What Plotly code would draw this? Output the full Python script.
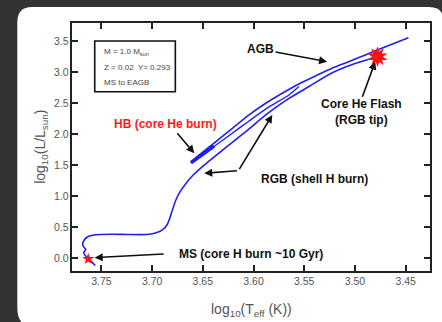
import plotly.graph_objects as go

# ---- data (log10 Teff, log10 L/Lsun) ----
rgb_logT = [3.7561, 3.7595, 3.7630, 3.7664, 3.7674, 3.7654, 3.7679, 3.7684, 3.7669, 3.7639,
            3.7585, 3.7507, 3.7389, 3.7242, 3.7058, 3.6967, 3.6898, 3.6854, 3.6825, 3.6800,
            3.6766, 3.6722, 3.6663, 3.6604, 3.6535, 3.6437, 3.6290, 3.6077, 3.5867, 3.5651,
            3.5445, 3.5229, 3.5013, 3.4788]
rgb_logL = [-0.126, -0.069, -0.021, 0.044, 0.084, 0.132, 0.181, 0.229, 0.285, 0.334,
            0.361, 0.374, 0.377, 0.374, 0.374, 0.398, 0.447, 0.527, 0.640, 0.769,
            0.931, 1.068, 1.205, 1.318, 1.423, 1.560, 1.753, 2.032, 2.318, 2.568,
            2.769, 2.979, 3.124, 3.237]

agb_logT = [3.6617, 3.6535, 3.6371, 3.6208, 3.6044, 3.5880, 3.5717, 3.5553, 3.5389, 3.5226,
            3.5062, 3.4898, 3.4736, 3.4473]
agb_logL = [1.539, 1.657, 1.871, 2.087, 2.302, 2.490, 2.652, 2.802, 2.931, 3.055,
            3.161, 3.269, 3.377, 3.548]

hb_logT = [3.6617, 3.6404, 3.6240, 3.6044, 3.5848, 3.5651, 3.5553]
hb_logL = [1.528, 1.777, 1.971, 2.205, 2.431, 2.624, 2.761]

hb_thick_logT = [3.6617, 3.6390]
hb_thick_logL = [1.530, 1.800]

ms_star = (3.7630, -0.021)
tip_star = (3.4778, 3.242)

x_ticks = [3.75, 3.70, 3.65, 3.60, 3.55, 3.50, 3.45]
y_ticks = [0.0, 0.5, 1.0, 1.5, 2.0, 2.5, 3.0, 3.5]
y_tick_labels = ["0.0", "0.5", "1.0", "1.5", "2.0", "2.5", "3.0", "3.5"]

BLUE = "#1f1ff5"
FONT = "Liberation Sans, Arial, sans-serif"
TICKGREY = "#555555"

fig = go.Figure()
fig.add_trace(go.Scatter(x=rgb_logT, y=rgb_logL, mode="lines",
                         line=dict(color=BLUE, width=1.6, shape="spline", smoothing=0.6)))
fig.add_trace(go.Scatter(x=hb_logT, y=hb_logL, mode="lines",
                         line=dict(color=BLUE, width=1.4, shape="spline", smoothing=0.6)))
fig.add_trace(go.Scatter(x=agb_logT, y=agb_logL, mode="lines",
                         line=dict(color=BLUE, width=1.6, shape="spline", smoothing=0.6)))
fig.add_trace(go.Scatter(x=hb_thick_logT, y=hb_thick_logL, mode="lines",
                         line=dict(color=BLUE, width=3.6)))
# stars
fig.add_trace(go.Scatter(x=[ms_star[0]], y=[ms_star[1]], mode="markers",
                         marker=dict(symbol="star", size=9, color="#ff1010", line=dict(width=0))))
for ang in (0, 36):
    fig.add_trace(go.Scatter(x=[tip_star[0]], y=[tip_star[1]], mode="markers",
                             marker=dict(symbol="star", size=15, angle=ang, color="#ff1010",
                                         line=dict(width=0))))
fig.add_trace(go.Scatter(x=[tip_star[0]], y=[tip_star[1]], mode="markers",
                         marker=dict(symbol="circle", size=8, color="#ff1010", line=dict(width=0))))

ann = []
def label(x, y, text, color="#111111", size=12):
    ann.append(dict(x=x, y=y, xref="x", yref="y", text=text, showarrow=False,
                    font=dict(family=FONT, size=size, color=color)))

def arrow(x0, y0, x1, y1, head=2):
    ann.append(dict(x=x1, y=y1, ax=x0, ay=y0, xref="x", yref="y", axref="x", ayref="y",
                    text="", showarrow=True, arrowhead=head, arrowsize=1.0, arrowwidth=1.6,
                    arrowcolor="#111111", standoff=0, startstandoff=0))

label(3.5929, 3.366, "<b>AGB</b>")
arrow(3.5798, 3.323, 3.5275, 3.161)
label(3.4938, 2.355, "<b>Core He Flash<br>(RGB tip)</b>")
arrow(3.4932, 2.571, 3.4800, 3.161)
label(3.6872, 2.152, "<b>HB (core He burn)</b>", color="#ff1a1a")
arrow(3.6764, 2.032, 3.6584, 1.684)
label(3.5399, 1.269, "<b>RGB (shell H burn)</b>")
arrow(3.6149, 1.403, 3.6486, 1.361)
arrow(3.6149, 1.403, 3.5815, 2.302)
label(3.6022, 0.060, "<b>MS (core H burn ~10 Gyr)</b>")
arrow(3.6872, 0.060, 3.7566, 0.0)

# info box text
for yy, t in ((3.315, "M = 1.0 M<sub>sun</sub>"), (3.072, "Z = 0.02  Y= 0.293"), (2.831, "MS to EAGB")):
    ann.append(dict(x=3.7490, y=yy, xref="x", yref="y", xanchor="left", text=t, showarrow=False,
                    font=dict(family=FONT, size=8, color="#444444")))

# y tick labels (placed close to the axis as in the original)
for v, t in zip(y_ticks, y_tick_labels):
    ann.append(dict(x=0, y=v, xref="paper", yref="y", xanchor="right", yanchor="middle",
                    xshift=-1.5, text=t, showarrow=False,
                    font=dict(family=FONT, size=10.5, color=TICKGREY)))

# axis titles
ann.append(dict(x=0.5, y=-0.157, xref="paper", yref="paper", yanchor="middle",
                text="log<sub>10</sub>(T<sub>eff</sub> (K))", showarrow=False,
                font=dict(family=FONT, size=14, color=TICKGREY)))
ann.append(dict(x=-0.087, y=0.50, xref="paper", yref="paper", xanchor="center", yanchor="middle",
                textangle=-90, text="log<sub>10</sub>(L/L<sub>sun</sub>)", showarrow=False,
                font=dict(family=FONT, size=14, color=TICKGREY)))

# white card with rounded corners (paper coords of the plot domain)
W, H = 360.0, 248.0
def px(xp): return (xp - 72) / W
def py(yp): return (271 - yp) / H
x0, x1, yt, yb = px(17), px(446), py(7), py(328)
rx, ry = 15 / W, 15 / H
rx2, ry2 = 20 / W, 20 / H
card = (f"M {x0},{yb+ry2} L {x0},{yt-ry} Q {x0},{yt} {x0+rx},{yt} "
        f"L {x1-rx},{yt} Q {x1},{yt} {x1},{yt-ry} L {x1},{yb} L {x0+rx2},{yb} "
        f"Q {x0},{yb} {x0},{yb+ry2} Z")
shapes = [
    dict(type="path", xref="paper", yref="paper", path=card, fillcolor="white",
         line=dict(width=0), layer="below"),
    dict(type="rect", xref="x", yref="y", x0=3.7566, x1=3.6771, y0=2.677, y1=3.495,
         line=dict(color="#111111", width=1.6), fillcolor="rgba(0,0,0,0)"),
]

axis_common = dict(showline=True, linecolor="#222222", linewidth=1.5, mirror="ticks",
                   ticks="inside", ticklen=6, tickwidth=1.5, tickcolor="#222222",
                   showgrid=False, zeroline=False,
                   tickfont=dict(family=FONT, size=10.5, color=TICKGREY))

fig.update_layout(
    width=442, height=322,
    margin=dict(l=72, r=10, t=23, b=51),
    paper_bgcolor="#333333", plot_bgcolor="rgba(0,0,0,0)",
    showlegend=False,
    xaxis=dict(range=[3.779, 3.426], tickvals=x_ticks, tickformat=".2f", **axis_common),
    yaxis=dict(range=[-0.215, 3.785], tickvals=y_ticks, showticklabels=False, **axis_common),
    annotations=ann, shapes=shapes,
)

fig.write_html("out.html")
